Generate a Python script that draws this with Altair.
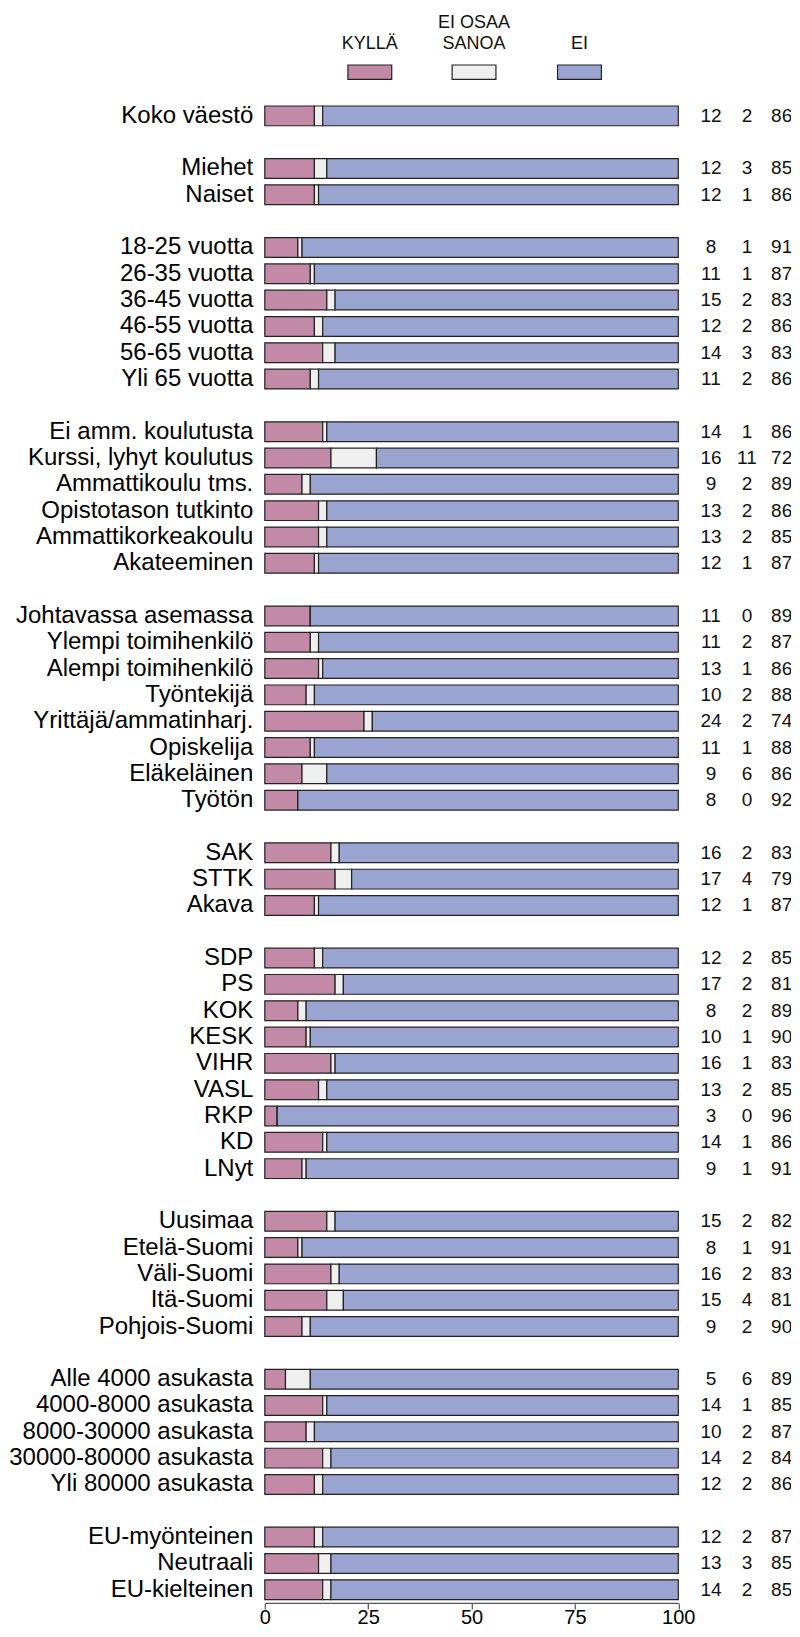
import altair as alt
import pandas as pd

# ---------------- data ----------------
categories = [
    "Koko väestö",
    "Miehet", "Naiset",
    "18-25 vuotta", "26-35 vuotta", "36-45 vuotta", "46-55 vuotta", "56-65 vuotta", "Yli 65 vuotta",
    "Ei amm. koulutusta", "Kurssi, lyhyt koulutus", "Ammattikoulu tms.", "Opistotason tutkinto",
    "Ammattikorkeakoulu", "Akateeminen",
    "Johtavassa asemassa", "Ylempi toimihenkilö", "Alempi toimihenkilö", "Työntekijä",
    "Yrittäjä/ammatinharj.", "Opiskelija", "Eläkeläinen", "Työtön",
    "SAK", "STTK", "Akava",
    "SDP", "PS", "KOK", "KESK", "VIHR", "VASL", "RKP", "KD", "LNyt",
    "Uusimaa", "Etelä-Suomi", "Väli-Suomi", "Itä-Suomi", "Pohjois-Suomi",
    "Alle 4000 asukasta", "4000-8000 asukasta", "8000-30000 asukasta", "30000-80000 asukasta",
    "Yli 80000 asukasta",
    "EU-myönteinen", "Neutraali", "EU-kielteinen",
]
group_sizes = [1, 2, 6, 6, 8, 3, 9, 5, 5, 3]

kylla = [12, 12, 12, 8, 11, 15, 12, 14, 11, 14, 16, 9, 13, 13, 12,
         11, 11, 13, 10, 24, 11, 9, 8, 16, 17, 12,
         12, 17, 8, 10, 16, 13, 3, 14, 9,
         15, 8, 16, 15, 9, 5, 14, 10, 14, 12, 12, 13, 14]
eos = [2, 3, 1, 1, 1, 2, 2, 3, 2, 1, 11, 2, 2, 2, 1,
       0, 2, 1, 2, 2, 1, 6, 0, 2, 4, 1,
       2, 2, 2, 1, 1, 2, 0, 1, 1,
       2, 1, 2, 4, 2, 6, 1, 2, 2, 2, 2, 3, 2]
ei = [86, 85, 86, 91, 87, 83, 86, 83, 86, 86, 72, 89, 86, 85, 87,
      89, 87, 86, 88, 74, 88, 86, 92, 83, 79, 87,
      85, 81, 89, 90, 83, 85, 96, 86, 91,
      82, 91, 83, 81, 90, 89, 85, 87, 84, 86, 87, 85, 85]

segments = ["KYLLÄ", "EI OSAA SANOA", "EI"]
legend_line1 = ["", "EI OSAA", ""]
legend_line2 = ["KYLLÄ", "SANOA", "EI"]
x_ticks = [0, 25, 50, 75, 100]

# ---------------- style ----------------
colors = ["#C28AA6", "#EEEFEE", "#9AA4D0"]
STROKE = "#222222"
FONT = "Liberation Sans"
LEG_CENTERS = [25.4, 50.6, 76.1]
LEG_HALF = 5.3
NUM_COLS = [107.9, 116.6, 125.0]

# ---------------- build tables ----------------
order = []
idx = 0
for g, n in enumerate(group_sizes):
    if g > 0:
        order.append(f"_gap{g}")
    order.extend(categories[idx: idx + n])
    idx += n

rows = []
for c, k, e in zip(categories, kylla, eos):
    rows.append({"cat": c, "seg": segments[0], "start": 0, "end": k})
    rows.append({"cat": c, "seg": segments[1], "start": k, "end": k + e})
    rows.append({"cat": c, "seg": segments[2], "start": k + e, "end": 100})
bars_df = pd.DataFrame(rows)

nums_df = pd.DataFrame({"cat": categories, "kylla": kylla, "eos": eos, "ei": ei})

leg_df = pd.DataFrame({
    "seg": segments,
    "l1": legend_line1,
    "l2": legend_line2,
    "xc": LEG_CENTERS,
    "x1": [c - LEG_HALF for c in LEG_CENTERS],
    "x2": [c + LEG_HALF for c in LEG_CENTERS],
})

color_scale = alt.Scale(domain=segments, range=colors)
x_scale = alt.Scale(domain=[0, 100], nice=False, zero=False)

y_enc = alt.Y(
    "cat:N",
    scale=alt.Scale(domain=order, paddingInner=0.25, paddingOuter=0.125),
    axis=alt.Axis(
        title=None, ticks=False, domain=False, grid=False,
        labelFont=FONT, labelFontSize=24, labelColor="#000000",
        labelPadding=12, labelLimit=400, labelOverlap=False,
        labelExpr="substring(datum.label, 0, 4) === '_gap' ? '' : datum.label",
    ),
)

x_axis = alt.Axis(
    title=None, values=x_ticks, grid=False,
    domainColor="#555555", domainWidth=1.2,
    tickColor="#555555", tickSize=6, tickWidth=1.2,
    labelFont=FONT, labelFontSize=20, labelColor="#000000",
    labelBaseline="alphabetic", labelPadding=15,
    labelFlush=False,
)

bars = alt.Chart(bars_df).mark_bar(stroke=STROKE, strokeWidth=1.2).encode(
    x=alt.X("start:Q", scale=x_scale, axis=x_axis),
    x2="end:Q",
    y=y_enc,
    color=alt.Color("seg:N", scale=color_scale, legend=None),
)

num_layers = []
for field, xc in zip(["kylla", "eos", "ei"], NUM_COLS):
    num_layers.append(
        alt.Chart(nums_df).mark_text(
            font=FONT, fontSize=19, color="#111111", align="center", baseline="middle"
        ).encode(
            x=alt.datum(xc),
            y=y_enc,
            text=alt.Text(f"{field}:Q"),
        )
    )

leg_rect = alt.Chart(leg_df).mark_rect(stroke=STROKE, strokeWidth=1.2).encode(
    x=alt.X("x1:Q", scale=x_scale),
    x2="x2:Q",
    y=alt.value(-37.7),
    y2=alt.value(-23.4),
    color=alt.Color("seg:N", scale=color_scale, legend=None),
)

leg_t2 = alt.Chart(leg_df).mark_text(
    font=FONT, fontSize=18, color="#111111", align="center", baseline="alphabetic"
).encode(
    x=alt.X("xc:Q", scale=x_scale),
    y=alt.value(-53.4),
    text="l2:N",
)

leg_t1 = alt.Chart(leg_df).mark_text(
    font=FONT, fontSize=18, color="#111111", align="center", baseline="alphabetic"
).encode(
    x=alt.X("xc:Q", scale=x_scale),
    y=alt.value(-74.4),
    text="l1:N",
)

chart = alt.layer(bars, *num_layers, leg_rect, leg_t2, leg_t1).properties(
    width=413.5,
    height=1500.2,
    autosize=alt.AutoSizeParams(type="none"),
    padding={"left": 256.8, "top": 94.7, "right": 113, "bottom": 25.8},
    background="white",
).configure_view(stroke=None)

chart.save("out.html", embed_options={"renderer": "svg", "actions": False})
